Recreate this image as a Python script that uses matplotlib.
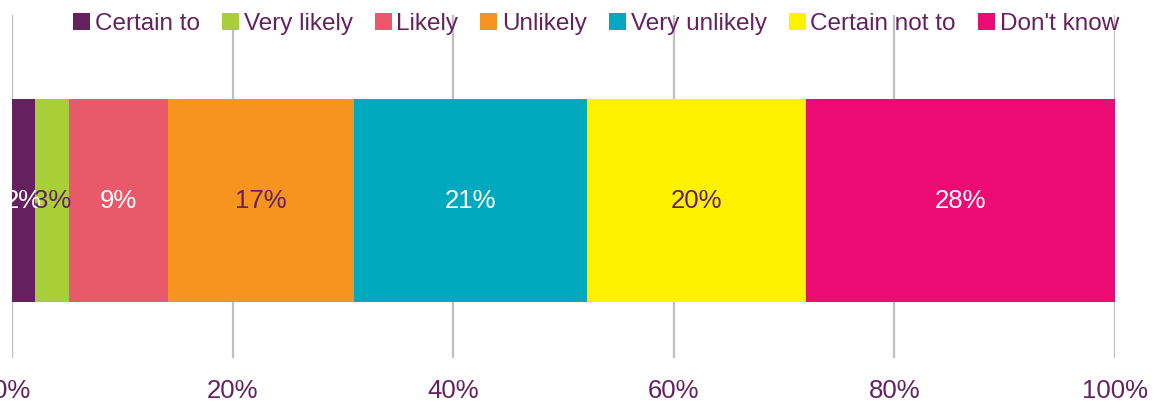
import matplotlib.pyplot as plt

plt.rcParams['font.family'] = ['Liberation Sans', 'DejaVu Sans']

# data
categories = ['Certain to', 'Very likely', 'Likely', 'Unlikely',
              'Very unlikely', 'Certain not to', "Don't know"]
shares = [2.1, 3.1, 8.9, 16.9, 21.1, 19.9, 28.0]
colors = ['#65205F', '#A8CF38', '#E8596A', '#F7941F', '#00A9BE', '#FFF200', '#EC0B73']
label_colors = ['white', '#65205F', 'white', '#65205F', 'white', '#65205F', 'white']
ticks = [0, 20, 40, 60, 80, 100]

TEXT = '#65205F'

fig = plt.figure(figsize=(11.58, 4.01), dpi=100)
ax = fig.add_axes([12 / 1158, 1 - 358 / 401, (1115 - 12) / 1158, 343 / 401])

left = 0
for cat, val, col, lc in zip(categories, shares, colors, label_colors):
    ax.barh(0, val, left=left, height=1.0, color=col, label=cat, zorder=3)
    ax.text(left + val / 2, 0, f'{val:.0f}%', ha='center', va='center',
            color=lc, fontsize=18.5, zorder=4)
    left += val

ax.set_xlim(0, 100)
ax.set_ylim(-0.776, 0.914)
ax.set_xticks(ticks)
ax.set_xticklabels([f'{t}%' for t in ticks], color=TEXT, fontsize=18.5)
ax.set_yticks([])
ax.tick_params(axis='x', length=0, pad=15)
ax.grid(axis='x', color='#BFBFBF', linewidth=1.6, zorder=0)
for s in ax.spines.values():
    s.set_visible(False)

leg = fig.legend(loc='center', bbox_to_anchor=(596 / 1158, 1 - 24 / 401), ncol=7,
                 frameon=False, fontsize=17.5, handlelength=0.7, handleheight=0.7,
                 handletextpad=0.2, columnspacing=0.9, borderaxespad=0)
for t in leg.get_texts():
    t.set_color(TEXT)

fig.savefig('out.png', dpi=100)
